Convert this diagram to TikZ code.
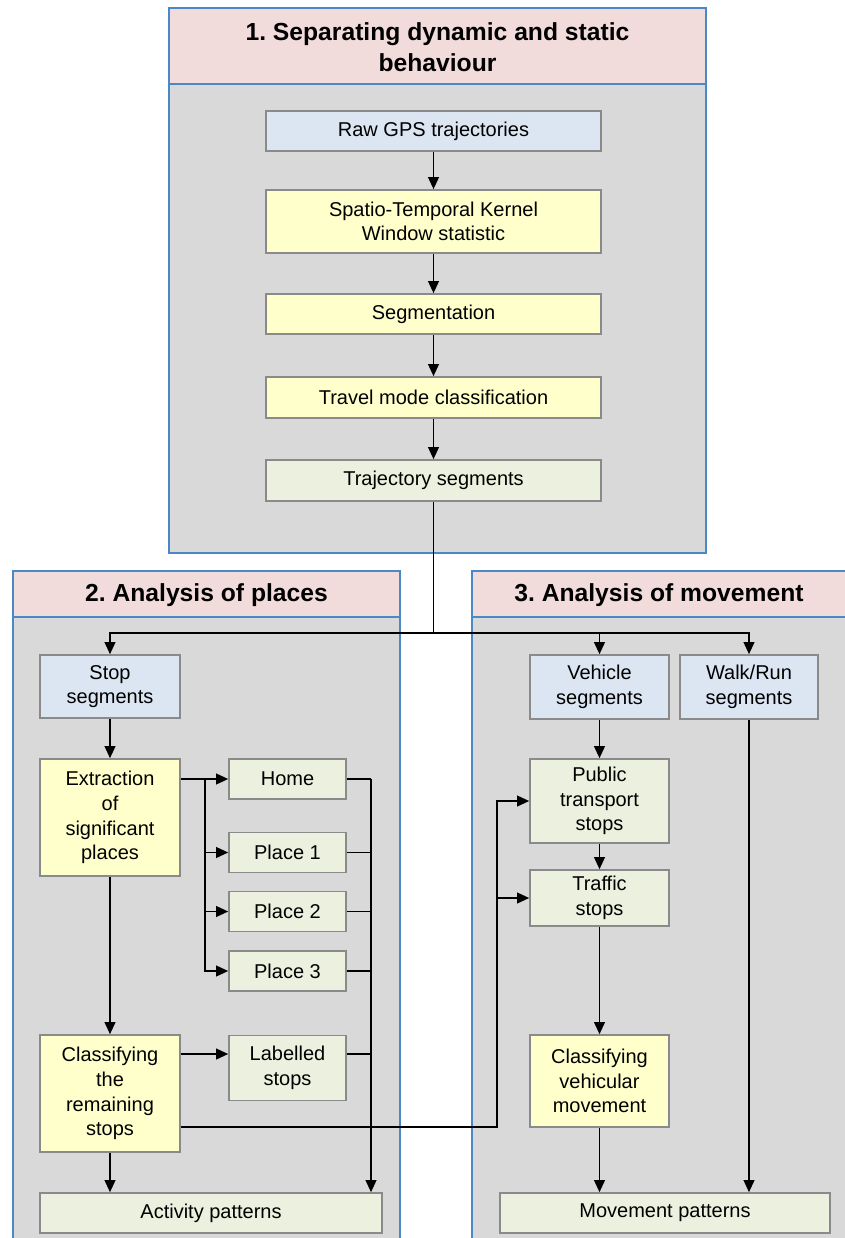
\documentclass[tikz,border=0pt]{standalone}
\usepackage{fontspec}
\setmainfont{Liberation Sans}
\usetikzlibrary{arrows.meta,calc}
\definecolor{hdrpink}{HTML}{F2DCDB}
\definecolor{bodygray}{HTML}{D9D9D9}
\definecolor{panelblue}{HTML}{4A89C8}
\definecolor{boxgray}{HTML}{8A8A8A}
\definecolor{bluebox}{HTML}{DCE6F2}
\definecolor{yellowbox}{HTML}{FFFFCC}
\definecolor{greenbox}{HTML}{EBF1DE}
\tikzset{
  panel/.style={draw=panelblue, line width=1.5pt, fill=bodygray},
  hdrbox/.style={draw=panelblue, line width=1.5pt, fill=hdrpink},
  hdr/.style={align=center, font=\frenchspacing\bfseries\fontsize{18.5}{23}\selectfont, inner sep=0pt},
  box/.style={draw=boxgray, line width=1.2pt, align=center, inner sep=0pt,
    font=\fontsize{15}{18.5}\selectfont},
  bl/.style={box, fill=bluebox},
  yl/.style={box, fill=yellowbox},
  gr/.style={box, fill=greenbox},
  conn/.style={line width=1.3pt, black},
  arr/.style={conn, -{Triangle[length=9pt,width=8pt]}},
}
\begin{document}
\begin{tikzpicture}[x=0.75pt,y=-0.75pt]
\useasboundingbox (0,0) rectangle (844,1238);
% panels
\draw[panel] (169,8) rectangle (706,553);
\draw[hdrbox] (169,8) rectangle (706,84);
\node[hdr] (h1) at (437.5,47) {1. Separating dynamic and static\\behaviour};
\draw[panel] (13,571) rectangle (400,1250);
\draw[hdrbox] (13,571) rectangle (400,617);
\node[hdr] (h2) at (206.5,595) {2. Analysis of places};
\draw[panel] (472,571) rectangle (850,1250);
\draw[hdrbox] (472,571) rectangle (850,617);
\node[hdr] (h3) at (659,595) {3. Analysis of movement};
% top nodes
\node[bl, minimum width=251.25pt, minimum height=30pt] (raw) at (433.5,131) {Raw GPS trajectories};
\node[yl, minimum width=251.25pt, minimum height=47.25pt] (stk) at (433.5,221.5) {Spatio-Temporal Kernel\\Window statistic};
\node[yl, minimum width=251.25pt, minimum height=30pt] (seg) at (433.5,314) {Segmentation};
\node[yl, minimum width=251.25pt, minimum height=30.75pt] (tmc) at (433.5,397.5) {Travel mode classification};
\node[gr, minimum width=251.25pt, minimum height=30.75pt] (trs) at (433.5,480.5) {Trajectory segments};
% left nodes
\node[bl, minimum width=105pt, minimum height=47.25pt] (stop) at (110,686.5) {Stop\\segments};
\node[yl, minimum width=105pt, minimum height=87.75pt] (extr) at (110,817.5) {Extraction\\of\\significant\\places};
\node[gr, minimum width=87.75pt, minimum height=30pt] (home) at (287.5,779) {Home};
\node[gr, minimum width=87.75pt, minimum height=30pt] (p1) at (287.5,852.5) {Place 1};
\node[gr, minimum width=87.75pt, minimum height=30pt] (p2) at (287.5,911.5) {Place 2};
\node[gr, minimum width=87.75pt, minimum height=30pt] (p3) at (287.5,971) {Place 3};
\node[yl, minimum width=105pt, minimum height=87.75pt] (clr) at (110,1093.5) {Classifying\\the\\remaining\\stops};
\node[gr, minimum width=87.75pt, minimum height=48.75pt] (lab) at (287.5,1068) {Labelled\\stops};
\node[gr, minimum width=256.5pt, minimum height=30pt] (act) at (211,1213) {Activity patterns};
% right nodes
\node[bl, minimum width=104.25pt, minimum height=48pt] (veh) at (599.5,687) {Vehicle\\segments};
\node[bl, minimum width=103.5pt, minimum height=48pt] (walk) at (749,687) {Walk/Run\\segments};
\node[gr, minimum width=104.25pt, minimum height=63pt] (pub) at (599.5,801) {Public\\transport\\stops};
\node[gr, minimum width=104.25pt, minimum height=42pt] (trf) at (599.5,898) {Traffic\\stops};
\node[yl, minimum width=104.25pt, minimum height=69pt] (clv) at (599.5,1081) {Classifying\\vehicular\\movement};
\node[gr, minimum width=247.5pt, minimum height=30pt] (mov) at (665,1213) {Movement patterns};
% top connectors
\draw[arr] (raw) -- (stk);
\draw[arr] (stk) -- (seg);
\draw[arr] (seg) -- (tmc);
\draw[arr] (tmc) -- (trs);
\coordinate (j) at (433.5,633);
\draw[conn] (trs.south) -- (j);
\draw[arr] (j) -| (stop.north);
\draw[arr] (j) -| (veh.north);
\draw[arr] (j) -| (walk.north);
% left connectors
\draw[arr] (stop) -- (extr);
\draw[arr] (extr) -- (clr);
\draw[arr] (clr.south) -- (clr.south |- act.north);
\coordinate (b) at (205,779);
\draw[arr] (extr.east |- b) -- (home.west);
\draw[arr] (b) |- (p1.west);
\draw[arr] (b) |- (p2.west);
\draw[arr] (b) |- (p3.west);
\coordinate (r) at (371,779);
\draw[conn] (home.east) -- (r);
\draw[arr] (r) -- (r |- act.north);
\draw[conn] (p1.east) -- (r |- p1.east);
\draw[conn] (p2.east) -- (r |- p2.east);
\draw[conn] (p3.east) -- (r |- p3.east);
\coordinate (lr) at (287.5,1054);
\draw[arr] (clr.east |- lr) -- (lab.west |- lr);
\draw[conn] (lab.east |- lr) -- (r |- lr);
% cross connector
\coordinate (k) at (497,1127);
\draw[arr] (clr.east |- k) -- (k) |- (pub.west);
\draw[arr] (k |- trf.west) -- (trf.west);
% right connectors
\draw[arr] (veh) -- (pub);
\draw[arr] (pub) -- (trf);
\draw[arr] (trf) -- (clv);
\draw[arr] (clv.south) -- (clv.south |- mov.north);
\draw[arr] (walk.south) -- (walk.south |- mov.north);
\end{tikzpicture}
\end{document}
